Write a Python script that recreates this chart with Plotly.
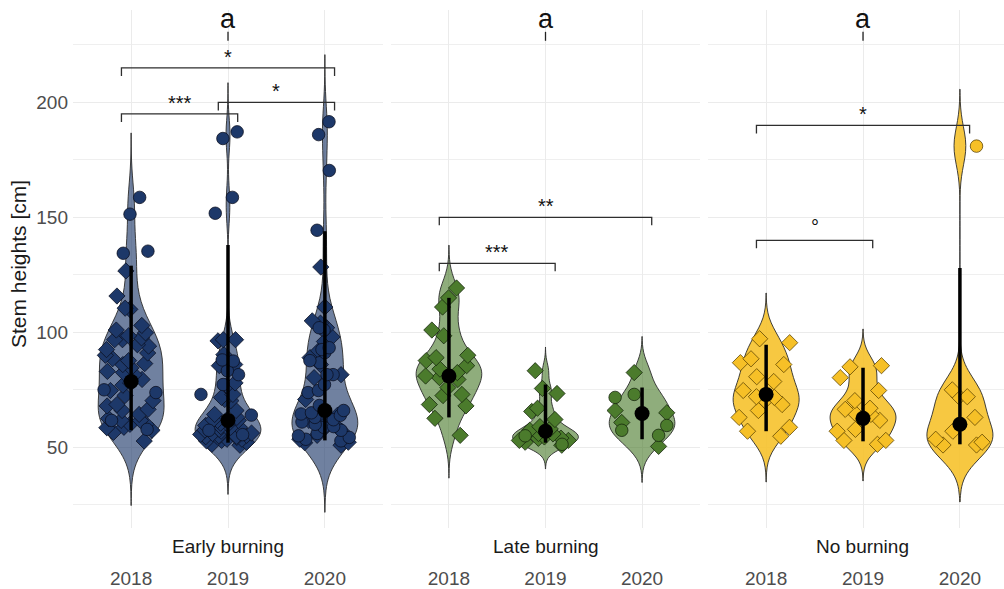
import numpy as np
import plotly.graph_objects as go

# ---------------------------------------------------------------- data
treatments = ["Early burning", "Late burning", "No burning"]
years = ["2018", "2019", "2020"]

# stem heights [cm]; two marker groups per year (diamond / circle)
early_2018_diamond = [126.7, 115.8, 110.5, 110.0, 103.0, 98.5, 97.6, 99.8, 96.8, 94.6, 96.8, 90.0,
                      91.0, 94.0, 87.7, 86.4, 86.0, 84.6, 83.0, 81.6, 82.5, 79.5, 78.0, 77.0, 88.5,
                      74.7, 92.5, 101.0, 72.5, 68.6, 70.3, 66.0, 68.0, 66.5, 58.5, 64.3, 62.5, 61.7,
                      61.7, 60.0, 60.0, 58.7, 56.5, 57.4, 52.7]
early_2018_circle = [158.7, 151.4, 135.3, 134.4, 57.8, 73.8, 75.0, 61.7]

early_2019_diamond = [96.3, 96.8, 96.8, 90.3, 88.0, 85.5, 86.0, 78.0, 76.8, 73.0, 71.7, 70.8, 57.5,
                      70.3, 55.0, 64.3, 58.5, 66.0, 61.7, 61.7, 62.0, 61.7, 58.7, 59.5, 58.7, 55.2,
                      54.3, 53.5, 54.3, 53.5, 55.6, 50.9, 51.3, 52.2, 57.0, 56.0, 60.5, 63.0, 52.8,
                      54.8, 57.8, 59.0, 60.0, 53.0, 56.2, 54.6]
early_2019_circle = [184.3, 187.2, 158.7, 151.8, 88.0, 87.5, 83.3, 81.6, 77.3, 73.0, 57.4, 55.5, 64.0]

early_2020_diamond = [128.4, 111.0, 104.0, 102.0, 98.0, 105.0, 92.0, 81.6, 86.0, 89.0, 80.3, 70.8,
                      63.9, 61.7, 61.7, 50.9, 52.2, 55.2, 53.5, 96.0, 58.0, 60.0, 57.0, 64.0, 52.0,
                      62.5]
early_2020_circle = [191.6, 186.0, 170.4, 144.4, 102.0, 101.0, 91.2, 92.5, 93.3, 86.8, 87.7, 81.6,
                     81.6, 77.3, 73.8, 74.7, 68.2, 66.0, 63.0, 63.9, 60.0, 53.5, 54.3, 57.4, 58.7,
                     65.0, 62.0, 56.0, 59.0, 55.0, 61.0, 64.5, 52.8]

late_2018_diamond = [119.3, 115.0, 111.0, 101.0, 98.5, 90.0, 89.0, 87.7, 85.5, 82.5, 80.3, 79.5,
                     81.0, 73.0, 72.5, 68.6, 68.0, 62.6, 55.2, 76.0, 84.0]
late_2018_circle = []

late_2019_diamond = [83.3, 75.6, 73.4, 65.6, 67.0, 62.1, 59.0, 57.4, 53.9, 54.5, 50.9, 53.0, 53.0,
                     52.2, 56.0, 58.0, 54.0, 55.8]
late_2019_circle = [51.3, 55.0]

late_2020_diamond = [82.5, 65.0, 60.8, 66.0, 50.4]
late_2020_circle = [71.7, 59.5, 57.4, 55.2, 73.0]

no_2018_diamond = [97.2, 95.5, 86.8, 88.5, 86.0, 80.7, 78.6, 74.7, 71.7, 70.3, 68.6, 66.0, 63.0,
                   58.7, 57.0, 54.8, 72.0]
no_2018_circle = []

no_2019_diamond = [85.0, 85.5, 80.3, 74.7, 66.5, 70.3, 64.3, 61.7, 62.0, 57.8, 57.0, 53.0, 53.0,
                   67.0, 65.0, 51.3]
no_2019_circle = []

no_2020_diamond = [75.0, 72.0, 72.0, 63.0, 57.0, 53.5, 51.0, 51.0, 52.2]
no_2020_circle = [181.0]

# summary per year: median and interval limits
early_median = [78.6, 61.7, 66.0]
early_low = [57.4, 52.0, 53.0]
early_high = [129.0, 138.0, 144.0]

late_median = [81.0, 57.0, 64.7]
late_low = [63.0, 52.0, 53.5]
late_high = [115.0, 77.3, 76.0]

no_median = [73.0, 62.6, 60.0]
no_low = [57.0, 52.6, 51.3]
no_high = [94.6, 84.6, 128.0]

# pairwise comparisons (year index from / to, bracket height, label)
early_sig_from = [0, 1, 0]
early_sig_to = [1, 2, 2]
early_sig_y = [195.0, 200.0, 215.0]
early_sig_label = ["***", "*", "*"]

late_sig_from = [0, 0]
late_sig_to = [1, 2]
late_sig_y = [130.0, 150.0]
late_sig_label = ["***", "**"]

no_sig_from = [0, 0]
no_sig_to = [1, 2]
no_sig_y = [140.0, 190.0]
no_sig_label = ["°", "*"]

# compact letter display across treatments
group_letters = ["a", "a", "a"]
letter_y = 230.7

# ---------------------------------------------------------------- styling
FONT = "Liberation Sans, Arial, sans-serif"
W, H = 1004, 589
M_TOP, M_BOT = 10, 59
PLOT_H = H - M_TOP - M_BOT
Y_RANGE = [14.9, 240.2]
UNITS_PER_PX = (Y_RANGE[1] - Y_RANGE[0]) / PLOT_H
VIOLIN_WIDTH = 0.68

domains = [[73 / W, 383 / W], [391 / W, 700 / W], [708 / W, 1.0]]
x_ranges = [[-0.6, 2.6], [-0.6, 2.6], [-0.6, 2.455]]
strip_centers = [228 / W, 546 / W, 862 / W]

point_colors = ["#1d3869", "#4b7b2c", "#f6c027"]
violin_fills = ["rgba(29,56,105,0.63)", "rgba(75,123,44,0.62)", "rgba(246,192,39,0.88)"]
point_edges = ["rgba(10,15,30,0.85)", "rgba(20,35,10,0.85)", "rgba(90,65,0,0.85)"]

panels = [
    dict(d=[early_2018_diamond, early_2019_diamond, early_2020_diamond],
         c=[early_2018_circle, early_2019_circle, early_2020_circle],
         med=early_median, lo=early_low, hi=early_high,
         sf=early_sig_from, st=early_sig_to, sy=early_sig_y, sl=early_sig_label),
    dict(d=[late_2018_diamond, late_2019_diamond, late_2020_diamond],
         c=[late_2018_circle, late_2019_circle, late_2020_circle],
         med=late_median, lo=late_low, hi=late_high,
         sf=late_sig_from, st=late_sig_to, sy=late_sig_y, sl=late_sig_label),
    dict(d=[no_2018_diamond, no_2019_diamond, no_2020_diamond],
         c=[no_2018_circle, no_2019_circle, no_2020_circle],
         med=no_median, lo=no_low, hi=no_high,
         sf=no_sig_from, st=no_sig_to, sy=no_sig_y, sl=no_sig_label),
]


def nrd0(v):
    """Silverman's rule as used by R's bw.nrd0."""
    v = np.asarray(v, float)
    sd = v.std(ddof=1)
    q75, q25 = np.percentile(v, [75, 25])
    lo = min(sd, (q75 - q25) / 1.34)
    if lo <= 0:
        lo = sd
    return 0.9 * lo * len(v) ** (-0.2)


fig = go.Figure()
annotations = []

for p, panel in enumerate(panels):
    xa = "x" if p == 0 else f"x{p + 1}"
    ya = "y" if p == 0 else f"y{p + 1}"

    # violins, each scaled to its own density peak; tails run three bandwidths past the data
    for i in range(3):
        vals = panel["d"][i] + panel["c"][i]
        bw = nrd0(vals)
        fig.add_trace(go.Violin(
            x0=i, y=vals, xaxis=xa, yaxis=ya, width=VIOLIN_WIDTH,
            scalemode="width", bandwidth=bw,
            spanmode="manual", span=[min(vals) - 3 * bw, max(vals) + 3 * bw],
            points=False, box_visible=False, meanline_visible=False,
            fillcolor=violin_fills[p], line=dict(color="#2b2b2b", width=0.9),
            showlegend=False, hoverinfo="skip"))

    # jittered observations
    for i in range(3):
        for vals, sym in ((panel["d"][i], "diamond"), (panel["c"][i], "circle")):
            if not vals:
                continue
            fig.add_trace(go.Box(
                x0=i, y=vals, xaxis=xa, yaxis=ya, width=0.66,
                boxpoints="all", jitter=1.0, pointpos=0,
                fillcolor="rgba(0,0,0,0)", line=dict(width=0, color="rgba(0,0,0,0)"),
                marker=dict(symbol=sym, size=12.5, color=point_colors[p],
                            line=dict(width=0.9, color=point_edges[p])),
                showlegend=False, hoverinfo="skip"))

    # median with interval
    med = np.array(panel["med"])
    fig.add_trace(go.Scatter(
        x=[0, 1, 2], y=med, xaxis=xa, yaxis=ya, mode="markers",
        marker=dict(size=15, color="black"),
        error_y=dict(type="data", symmetric=False,
                     array=np.array(panel["hi"]) - med,
                     arrayminus=med - np.array(panel["lo"]),
                     thickness=3.5, width=0, color="black"),
        showlegend=False, hoverinfo="skip"))

    # significance brackets
    tip = 8 * UNITS_PER_PX
    for a, b, h, lab in zip(panel["sf"], panel["st"], panel["sy"], panel["sl"]):
        xl, xr = a - 0.1, b + 0.1
        fig.add_trace(go.Scatter(
            x=[xl, xl, xr, xr], y=[h - tip, h, h, h - tip], xaxis=xa, yaxis=ya,
            mode="lines", line=dict(color="#2e2e2e", width=1.3),
            showlegend=False, hoverinfo="skip"))
        annotations.append(dict(
            x=(a + b) / 2, y=h, xref=xa, yref=ya, text=lab, showarrow=False,
            yanchor="bottom", yshift=-2 if lab != "°" else 0,
            font=dict(family=FONT, size=20, color="#111111")))

    # group letter with its tick
    fig.add_trace(go.Scatter(
        x=[1, 1], y=[letter_y - 9 * UNITS_PER_PX, letter_y], xaxis=xa, yaxis=ya,
        mode="lines", line=dict(color="#222222", width=1.3),
        showlegend=False, hoverinfo="skip"))
    annotations.append(dict(
        x=1, y=letter_y, xref=xa, yref=ya, text=group_letters[p], showarrow=False,
        yanchor="bottom", yshift=-4,
        font=dict(family=FONT, size=27, color="#111111")))

    # facet strip label below the panel
    annotations.append(dict(
        x=strip_centers[p], y=-(549 - (H - M_BOT)) / PLOT_H, xref="paper", yref="paper",
        text=treatments[p], showarrow=False, xanchor="center", yanchor="middle",
        font=dict(family=FONT, size=19, color="#1a1a1a")))

# y axis title
annotations.append(dict(
    x=18 / W, y=(H - M_BOT - 265) / PLOT_H, xref="paper", yref="paper",
    text="Stem heights [cm]", textangle=-90, showarrow=False,
    xanchor="center", yanchor="middle",
    font=dict(family=FONT, size=21, color="#1a1a1a")))

layout = dict(
    width=W, height=H,
    margin=dict(l=0, r=0, t=M_TOP, b=M_BOT),
    paper_bgcolor="white", plot_bgcolor="white",
    violinmode="overlay", boxmode="overlay",
    annotations=annotations,
    showlegend=False,
)
for p in range(3):
    sx = "" if p == 0 else str(p + 1)
    layout[f"xaxis{sx}"] = dict(
        domain=domains[p], range=x_ranges[p], type="linear",
        tickvals=[0, 1, 2], ticktext=years, ticks="",
        showgrid=True, gridcolor="#ebebeb", gridwidth=1.1, zeroline=False,
        showline=False, ticklabelstandoff=37,
        tickfont=dict(family=FONT, size=19, color="#4d4d4d"),
        anchor="y" if p == 0 else f"y{p + 1}", fixedrange=True)
    layout[f"yaxis{sx}"] = dict(
        domain=[0, 1], range=Y_RANGE, type="linear",
        tickvals=[50, 100, 150, 200], ticks="",
        showticklabels=(p == 0), ticklabelstandoff=4,
        showgrid=True, gridcolor="#ebebeb", gridwidth=1.1, zeroline=False,
        minor=dict(tickvals=[25, 75, 125, 175, 225], showgrid=True,
                   gridcolor="#efefef", gridwidth=1),
        tickfont=dict(family=FONT, size=19, color="#4d4d4d"),
        anchor="x" if p == 0 else f"x{p + 1}", fixedrange=True)
    if p > 0:
        layout[f"yaxis{sx}"]["matches"] = "y"

fig.update_layout(**layout)
fig.write_html("out.html")
